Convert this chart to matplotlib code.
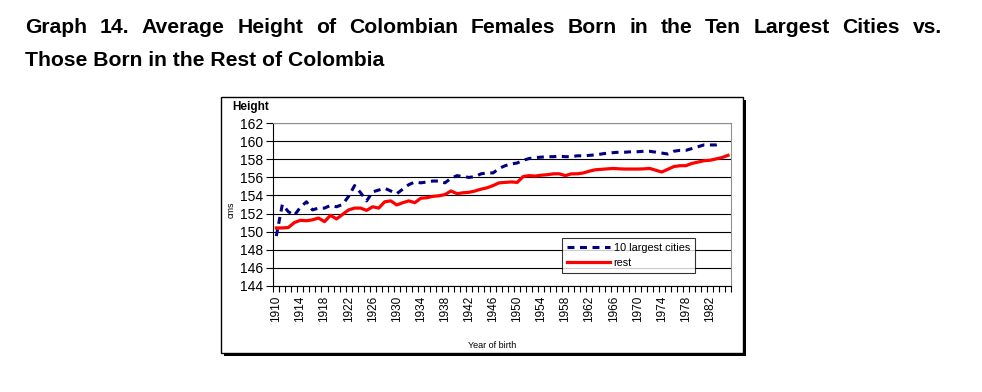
import matplotlib
matplotlib.use("Agg")
import matplotlib.pyplot as plt
from matplotlib.patches import Rectangle
import numpy as np

plt.rcParams['font.family'] = ['Liberation Sans', 'DejaVu Sans']
plt.rcParams['lines.scale_dashes'] = False

title_1 = "Graph 14. Average Height of Colombian Females Born in the Ten Largest Cities vs."
title_2 = "Those Born in the Rest of Colombia"

years_rest = list(range(1910, 1986))
rest = [150.4, 150.4, 150.45, 151.0, 151.25, 151.2, 151.3, 151.5, 151.1, 151.8,
        151.4, 151.9, 152.4, 152.6, 152.6, 152.35, 152.75, 152.6, 153.3, 153.4,
        152.95, 153.2, 153.4, 153.2, 153.7, 153.75, 153.9, 153.97, 154.1, 154.5,
        154.2, 154.3, 154.35, 154.5, 154.7, 154.85, 155.1, 155.4, 155.45, 155.5,
        155.45, 156.1, 156.2, 156.15, 156.25, 156.3, 156.4, 156.4, 156.2, 156.4,
        156.4, 156.5, 156.7, 156.85, 156.9, 156.95, 157.0, 156.95, 156.93, 156.93,
        156.93, 156.95, 157.0, 156.8, 156.6, 156.9, 157.2, 157.3, 157.3, 157.55,
        157.7, 157.85, 157.9, 158.05, 158.2, 158.45]

years_cities = list(range(1910, 1985))
cities = [149.5, 153.0, 152.2, 151.8, 152.7, 153.3, 152.4, 152.6, 152.6, 152.9,
          152.75, 153.0, 153.9, 155.1, 154.3, 153.4, 154.4, 154.6, 154.8, 154.5,
          154.2, 154.7, 155.2, 155.5, 155.4, 155.5, 155.6, 155.6, 155.4, 155.9,
          156.2, 156.1, 156.0, 156.1, 156.4, 156.5, 156.5, 157.0, 157.3, 157.5,
          157.6, 157.9, 158.1, 158.2, 158.25, 158.3, 158.3, 158.35, 158.3, 158.3,
          158.4, 158.4, 158.45, 158.5, 158.6, 158.7, 158.75, 158.8, 158.8, 158.85,
          158.85, 158.9, 158.9, 158.8, 158.7, 158.6, 158.9, 159.0, 159.0, 159.2,
          159.4, 159.6, 159.6, 159.6, 159.8]

W, H = 982, 392
fig = plt.figure(figsize=(W / 100, H / 100), dpi=100)

# chart frame with shadow
fig.patches.append(Rectangle((224 / W, 1 - 356 / H), 522 / W, 256 / H,
                             transform=fig.transFigure, facecolor='black',
                             edgecolor='none', zorder=0))
fig.patches.append(Rectangle((221 / W, 1 - 353 / H), 522 / W, 256 / H,
                             transform=fig.transFigure, facecolor='white',
                             edgecolor='black', linewidth=1, zorder=1))

ax = fig.add_axes([273.3 / W, 1 - 285.7 / H, 457.7 / W, 162.4 / H])
ax.set_zorder(2)

ax.plot(years_cities, cities, color='#000080', linewidth=2.2,
        dashes=(5, 4), label='10 largest cities')
ax.plot(years_rest, rest, color='#FF0000', linewidth=2.3,
        solid_joinstyle='round', label='rest')

ax.set_xlim(1909.5, 1985.5)
ax.set_ylim(144, 162)
ax.set_yticks(np.arange(144, 163, 2))
ax.set_xticks(np.arange(1910, 1983, 4))
ax.set_xticks(np.arange(1909.5, 1986, 1), minor=True)
ax.tick_params(axis='x', which='major', length=0, pad=7, labelsize=8.5,
               labelrotation=90)
ax.tick_params(axis='x', which='minor', length=4, width=0.8, direction='out')
ax.tick_params(axis='y', length=5, width=0.8, pad=2, labelsize=10)
ax.yaxis.grid(True, color='black', linewidth=0.8)
ax.set_axisbelow(True)
for s in ['top', 'right']:
    ax.spines[s].set_color('#909090')
    ax.spines[s].set_linewidth(0.8)
for s in ['left', 'bottom']:
    ax.spines[s].set_linewidth(0.8)

leg = ax.legend(loc='upper left', bbox_to_anchor=(0.631, 0.296), fontsize=7.8,
                frameon=True, fancybox=False, edgecolor='black',
                handlelength=4.0, handletextpad=0.3, borderpad=0.45,
                labelspacing=0.5, borderaxespad=0)
leg.get_frame().set_linewidth(0.8)

fig.text(232 / W, 1 - 110 / H, "Height", fontsize=8.5, fontweight='bold',
         ha='left', va='baseline', zorder=3)
fig.text(231 / W, 1 - 210 / H, "cms", fontsize=6.5, rotation=90,
         ha='center', va='center', zorder=3)
fig.text(492 / W, 1 - 345 / H, "Year of birth", fontsize=6.5,
         ha='center', va='center', zorder=3)

# justified first title line
renderer = fig.canvas.get_renderer()
words = title_1.split()
objs = [fig.text(0, 1 - 33 / H, w, fontsize=15.2, fontweight='bold',
                 ha='left', va='baseline') for w in words]
widths = [o.get_window_extent(renderer).width for o in objs]
left, right = 25, 942
gap = (right - left - sum(widths)) / (len(words) - 1)
x = left
for o, w in zip(objs, widths):
    o.set_x(x / W)
    x += w + gap
fig.text(25 / W, 1 - 66.5 / H, title_2, fontsize=15.2, fontweight='bold',
         ha='left', va='baseline')

fig.savefig("out.png", dpi=100)
